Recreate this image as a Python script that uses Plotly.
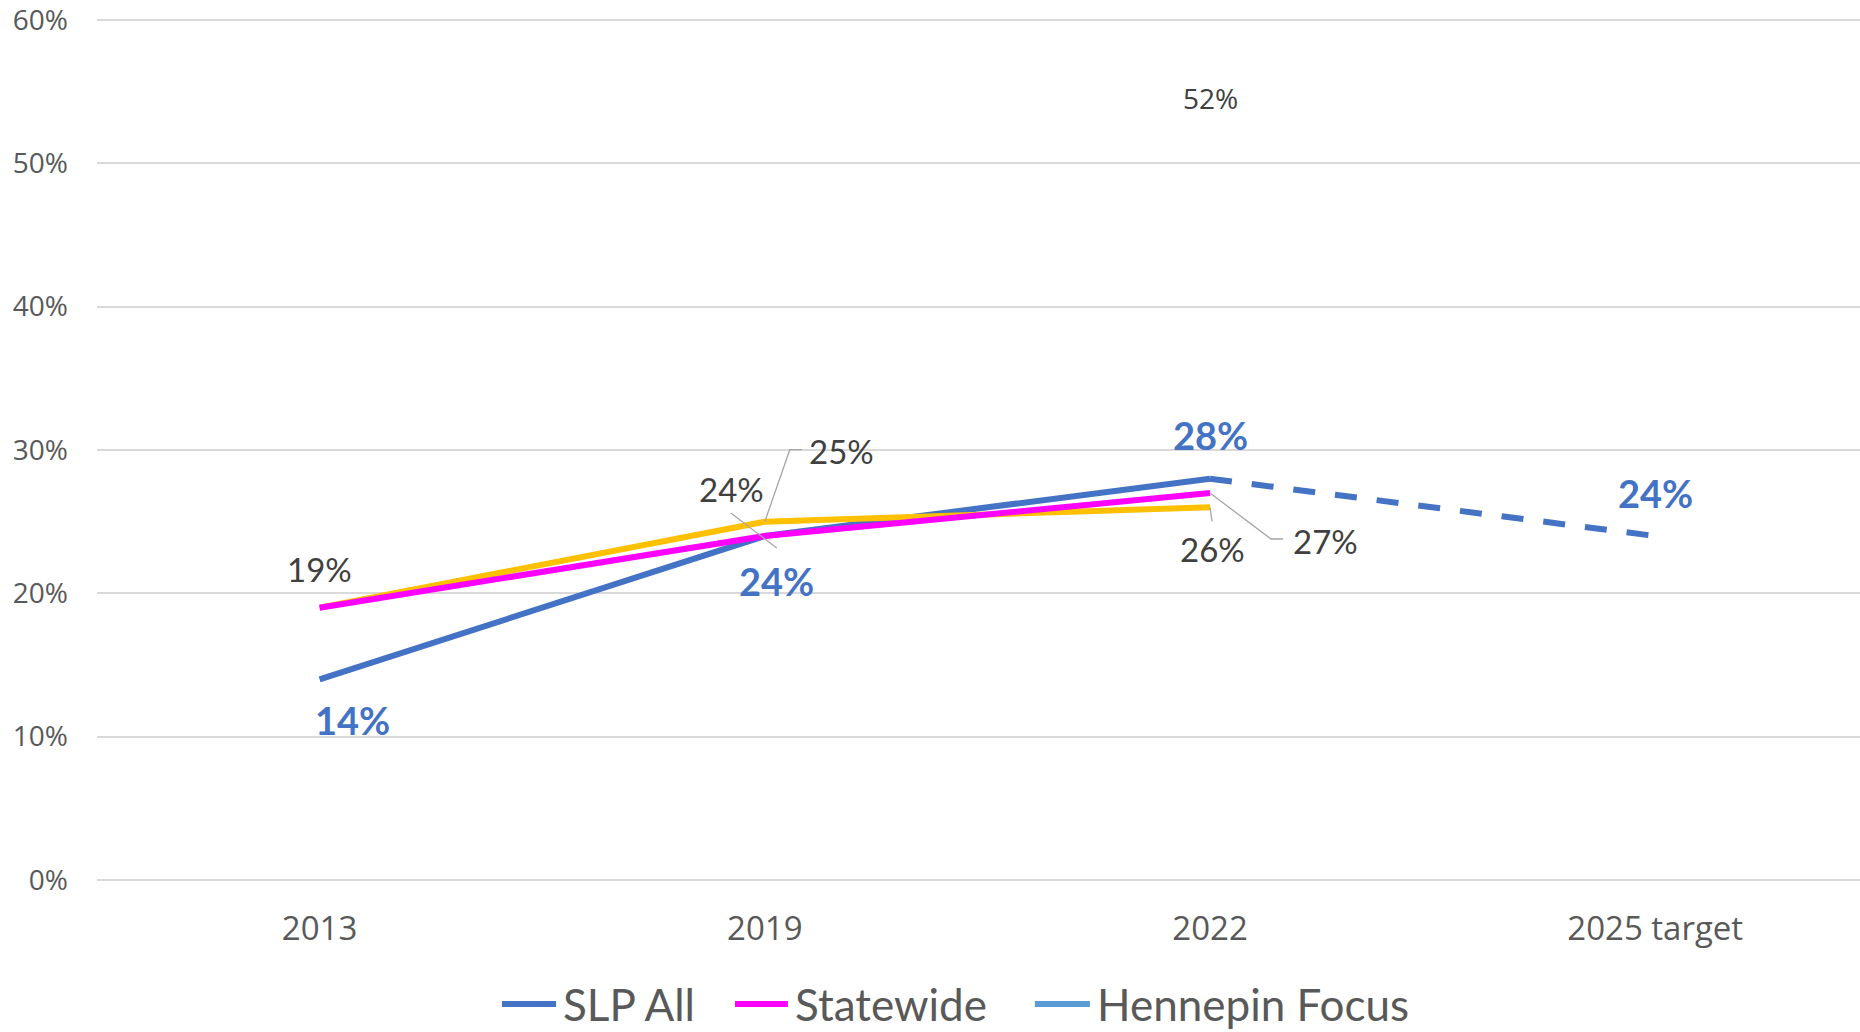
import plotly.graph_objects as go

# ---------------- data ----------------
categories = ["2013", "2019", "2022", "2025 target"]
slp_all = [14, 24, 28, None]
slp_target = [None, None, 28, 24]
statewide = [19, 24, 27, None]
hennepin_focus = [None, None, 52, None]
other_series = [19, 25, 26, None]   # yellow line, not in legend
y_tick_values = [0, 10, 20, 30, 40, 50, 60]
y_tick_labels = ["0%", "10%", "20%", "30%", "40%", "50%", "60%"]
legend_names = ["SLP All", "Statewide", "Hennepin Focus"]

BLUE = "#4472C4"
MAGENTA = "#FF00FF"
YELLOW = "#FFC000"
LIGHTBLUE = "#5B9BD5"
GRAY_TXT = "#404040"
AXIS_TXT = "#595959"
LEADER = "#A6A6A6"
LW = 6

fig = go.Figure()

fig.add_trace(go.Scatter(x=categories, y=slp_all, name=legend_names[0], mode="lines",
                         line=dict(color=BLUE, width=LW), showlegend=False))
fig.add_trace(go.Scatter(x=categories, y=slp_target, name="SLP All target", mode="lines",
                         line=dict(color=BLUE, width=LW, dash="22px,20px"), showlegend=False))
fig.add_trace(go.Scatter(x=categories, y=other_series, name="Other", mode="lines",
                         line=dict(color=YELLOW, width=LW), showlegend=False))
fig.add_trace(go.Scatter(x=categories, y=statewide, name=legend_names[1], mode="lines",
                         line=dict(color=MAGENTA, width=LW), showlegend=False))
fig.add_trace(go.Scatter(x=categories, y=hennepin_focus, name=legend_names[2], mode="lines",
                         line=dict(color=LIGHTBLUE, width=LW), showlegend=False))

bold_font = dict(family="Lato", size=38, color=BLUE, weight="bold")
gray_font = dict(family="Lato", size=33, color=GRAY_TXT)
small_font = dict(family="Open Sans", size=28, color=GRAY_TXT)

def label(series, idx, dx, dy, font):
    v = series[idx]
    fig.add_annotation(x=idx, y=v, text=f"{v}%", showarrow=False,
                       xshift=dx, yshift=-dy, font=font)

# SLP All labels (bold blue)
label(slp_all, 0, 33, 41, bold_font)
label(slp_all, 1, 12, 45, bold_font)
label(slp_all, 2, 0, -44, bold_font)
label(slp_target, 3, 0, -43, bold_font)
# Statewide / other labels
label(statewide, 0, 0, -39, gray_font)
label(statewide, 1, -33, -47, gray_font)
label(other_series, 1, 77, -71, gray_font)
label(other_series, 2, 2, 42, gray_font)
label(statewide, 2, 115, 48, gray_font)
# Hennepin Focus
label(hennepin_focus, 2, 0, -37, small_font)

# leader lines (pixel paths anchored at the data points)
def leader(series, idx, path):
    fig.add_shape(type="path", xref="x", yref="y", xsizemode="pixel", ysizemode="pixel",
                  xanchor=idx, yanchor=series[idx], path=path,
                  line=dict(color=LEADER, width=1.3))

leader(other_series, 1, "M0,0 L25,72 L37,72")
leader(statewide, 1, "M-34,23 L12,-12")
leader(other_series, 2, "M0,0 L2,-14")
leader(statewide, 2, "M0,0 L61,-46 L73,-46")

# custom legend (paper coordinates)
legend_colors = [BLUE, MAGENTA, LIGHTBLUE]
legend_sym_x = [(0.2297, 0.2604), (0.3619, 0.3919), (0.5320, 0.5632)]
legend_txt_x = [0.2630, 0.3945, 0.5660]
LEG_Y = -0.1435
for name, col, (x0, x1), tx in zip(legend_names, legend_colors, legend_sym_x, legend_txt_x):
    fig.add_shape(type="line", xref="paper", yref="paper", x0=x0, x1=x1, y0=LEG_Y, y1=LEG_Y,
                  line=dict(color=col, width=LW))
    fig.add_annotation(xref="paper", yref="paper", x=tx, y=LEG_Y, text=name, showarrow=False,
                       xanchor="left", yanchor="middle",
                       font=dict(family="Lato", size=44, color=AXIS_TXT))

fig.update_layout(
    width=1860, height=1032,
    margin=dict(l=97, r=0, t=16, b=152),
    plot_bgcolor="white", paper_bgcolor="white",
    showlegend=False,
    xaxis=dict(type="category", range=[-0.5, 3.46], showgrid=False, showline=False,
               zeroline=False, ticks="", ticklabelstandoff=26, automargin=False,
               tickfont=dict(family="Open Sans", size=33, color=AXIS_TXT)),
    yaxis=dict(range=[0, 60.28], tickvals=y_tick_values, ticktext=y_tick_labels,
               showgrid=True, gridcolor="#D9D9D9", gridwidth=1.5,
               zeroline=True, zerolinecolor="#D9D9D9", zerolinewidth=1.5,
               showline=False, ticks="", ticklabelstandoff=28, ticklabeloverflow="allow",
               automargin=False,
               tickfont=dict(family="Open Sans", size=28, color=AXIS_TXT)),
)

fig.write_html("out.html", config={"displayModeBar": False},
               post_script="document.body.style.margin='0';document.body.style.overflow='hidden';")
